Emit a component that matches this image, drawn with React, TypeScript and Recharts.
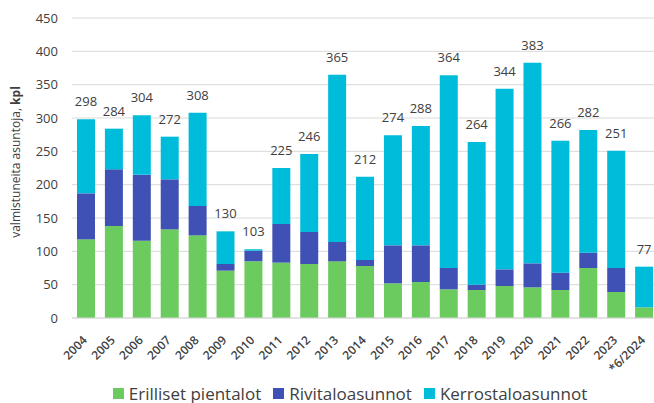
import React from 'react'
import { BarChart, Bar, XAxis, YAxis, CartesianGrid, Legend, LabelList, Label } from 'recharts'

const years = ['2004', '2005', '2006', '2007', '2008', '2009', '2010', '2011', '2012', '2013', '2014',
  '2015', '2016', '2017', '2018', '2019', '2020', '2021', '2022', '2023', '*6/2024']
const erilliset = [118, 138, 116, 133, 124, 71, 85, 83, 81, 85, 78, 52, 54, 43, 42, 48, 46, 42, 75, 39, 16]
const rivitalo = [69, 85, 99, 75, 44, 10, 16, 58, 48, 29, 9, 57, 55, 32, 8, 25, 36, 26, 23, 36, 0]
const kerrostalo = [111, 61, 89, 64, 140, 49, 2, 84, 117, 251, 125, 165, 179, 289, 214, 271, 301, 198, 184, 176, 61]
const yTicks = [0, 50, 100, 150, 200, 250, 300, 350, 400, 450]

const data = years.map((year, i) => ({
  year,
  erilliset: erilliset[i],
  rivitalo: rivitalo[i],
  kerrostalo: kerrostalo[i],
  total: erilliset[i] + rivitalo[i] + kerrostalo[i],
}))

const FONT = '"Open Sans", sans-serif'
const TEXT = '#404040'

const YearTick = ({ x, y, payload }: { x?: number; y?: number; payload?: { value: string } }) => (
  <text
    transform={`translate(${(x ?? 0) - 1}, ${(y ?? 0) + 12}) rotate(-45)`}
    dy="0.35em"
    textAnchor="end"
    fontSize={12}
    fontWeight={600}
    fontFamily={FONT}
    fill={TEXT}
  >
    {payload?.value}
  </text>
)

const AxisTitle = () => (
  <text
    transform="translate(16, 162) rotate(-90)"
    textAnchor="middle"
    dy="0.35em"
    fontSize={12}
    fontFamily={FONT}
    fill={TEXT}
  >
    valmistuneita asuntoja, <tspan fontWeight={700}>kpl</tspan>
  </text>
)

const legendItems = [
  { label: 'Erilliset pientalot', color: '#6CCB5F' },
  { label: 'Rivitaloasunnot', color: '#3F51B5' },
  { label: 'Kerrostaloasunnot', color: '#00BCDB' },
]

const CustomLegend = () => (
  <div style={{ display: 'flex', justifyContent: 'center', gap: 12, height: 25, paddingTop: 5, paddingLeft: 42, boxSizing: 'border-box', alignItems: 'center', fontFamily: FONT, fontSize: 17, color: TEXT }}>
    {legendItems.map(item => (
      <span key={item.label} style={{ display: 'flex', alignItems: 'center', gap: 5 }}>
        <span style={{ width: 11, height: 11, background: item.color, display: 'inline-block' }} />
        {item.label}
      </span>
    ))}
  </div>
)

export default function App() {
  return (
    <div style={{ position: 'absolute', left: 0, top: 0, width: 654, height: 403, overflow: 'hidden', background: '#fff' }}>
      <BarChart
        width={658}
        height={403}
        data={data}
        margin={{ top: 18, right: 0, bottom: 0, left: 0 }}
      >
        <CartesianGrid vertical={false} stroke="#d9d9d9" />
        <XAxis
          dataKey="year"
          interval={0}
          height={60}
          tick={<YearTick />}
          tickLine={false}
          axisLine={{ stroke: '#d9d9d9' }}
        />
        <YAxis
          width={72}
          domain={[0, 450]}
          ticks={yTicks}
          tickLine={false}
          axisLine={false}
          tickMargin={8}
          tick={{ fontSize: 13, fontFamily: FONT, fill: TEXT }}
        >
          <Label content={<AxisTitle />} />
        </YAxis>
        <Legend verticalAlign="bottom" content={<CustomLegend />} />
        <Bar dataKey="erilliset" stackId="a" fill="#6CCB5F" barSize={18} isAnimationActive={false} />
        <Bar dataKey="rivitalo" stackId="a" fill="#3F51B5" barSize={18} isAnimationActive={false} />
        <Bar dataKey="kerrostalo" stackId="a" fill="#00BCDB" barSize={18} isAnimationActive={false}>
          <LabelList dataKey="total" position="top" offset={13} fontSize={13} fontFamily={FONT} fill={TEXT} />
        </Bar>
      </BarChart>
    </div>
  )
}
